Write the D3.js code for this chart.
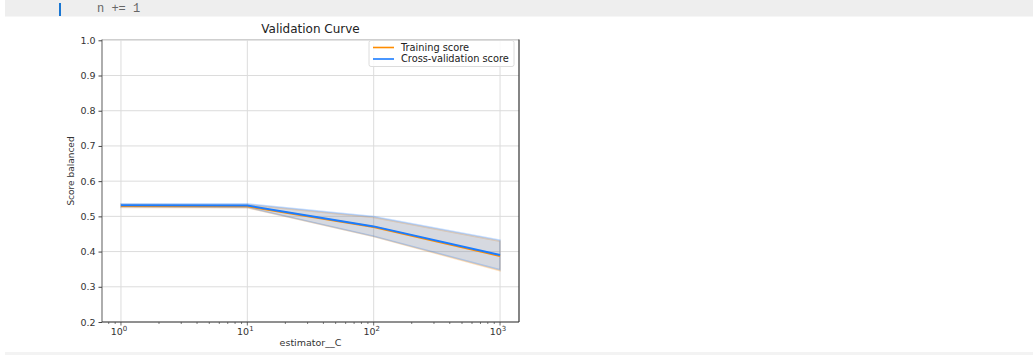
<!DOCTYPE html>
<html>
<head>
<meta charset="utf-8">
<script src="https://cdn.jsdelivr.net/npm/d3@7"></script>
<style>
  html, body { margin: 0; padding: 0; background: #fff; }
  svg { display: block; }
</style>
</head>
<body>
<svg id="chart" width="1033" height="355"></svg>
<script>
// Parameter grid (estimator__C) and the scores computed for each value
const paramRange = [1, 10, 100, 1000];
const trainMean = [0.5295, 0.5285, 0.4695, 0.3875];
const trainStd  = [0.004, 0.004, 0.027, 0.042];
const cvMean    = [0.5315, 0.5305, 0.4715, 0.3905];
const cvStd     = [0.004, 0.005, 0.028, 0.042];
const yTicks = [0.2, 0.3, 0.4, 0.5, 0.6, 0.7, 0.8, 0.9, 1.0];
const xTickExps = [0, 1, 2, 3];
const seriesNames = ["Training score", "Cross-validation score"];

const svg = d3.select("#chart");
const FONT = "DejaVu Sans, sans-serif";

// Notebook code cell strip above the figure
svg.append("rect").attr("x", 5).attr("y", 0).attr("width", 1028).attr("height", 16.5).attr("fill", "#eeeeee");
svg.append("rect").attr("x", 59).attr("y", 3).attr("width", 2).attr("height", 13).attr("fill", "#1976d2");
svg.append("text").attr("x", 97).attr("y", 12).attr("font-family", "Liberation Mono, DejaVu Sans Mono, monospace")
  .attr("font-size", 12).attr("fill", "#666").attr("xml:space", "preserve").text("n += 1");
svg.append("rect").attr("x", 5).attr("y", 352).attr("width", 1028).attr("height", 3).attr("fill", "#f3f3f3");

// Plot area
const L = 102, R = 519, T = 39.5, B = 322;
const x = d3.scaleLog().domain([Math.pow(10, -0.15), Math.pow(10, 3.15)]).range([L, R]);
const y = d3.scaleLinear().domain([0.2, 1.0]).range([B, T + 0.8]);

const g = svg.append("g");

// Grid lines
g.selectAll(".gx").data(xTickExps).join("line")
  .attr("x1", d => x(Math.pow(10, d))).attr("x2", d => x(Math.pow(10, d)))
  .attr("y1", T).attr("y2", B).attr("stroke", "#dcdcdc").attr("stroke-width", 1);
g.selectAll(".gy").data(yTicks).join("line")
  .attr("x1", L).attr("x2", R).attr("y1", d => y(d)).attr("y2", d => y(d))
  .attr("stroke", "#dcdcdc").attr("stroke-width", 1);

// Score bands (mean ± std)
function band(mean, std, color, alpha) {
  const area = d3.area()
    .x((d, i) => x(paramRange[i]))
    .y0((d, i) => y(mean[i] - std[i]))
    .y1((d, i) => y(mean[i] + std[i]));
  g.append("path").attr("d", area(mean)).attr("fill", color).attr("fill-opacity", alpha)
    .attr("stroke", color).attr("stroke-opacity", 0.25).attr("stroke-width", 1.5);
}
const orange = "#ff8c00", blue = "#1a7cff";
band(trainMean, trainStd, orange, 0.15);
band(cvMean, cvStd, blue, 0.18);

const line = d3.line().x((d, i) => x(paramRange[i])).y(d => y(d));
g.append("path").attr("d", line(trainMean)).attr("fill", "none").attr("stroke", orange).attr("stroke-width", 2);
g.append("path").attr("d", line(cvMean)).attr("fill", "none").attr("stroke", blue).attr("stroke-width", 2);

// Axes frame
g.append("line").attr("x1", L).attr("x2", R).attr("y1", T).attr("y2", T).attr("stroke", "#cfcfcf");
g.append("line").attr("x1", L).attr("x2", L).attr("y1", T).attr("y2", B).attr("stroke", "#777").attr("stroke-width", 1.2);
g.append("line").attr("x1", R).attr("x2", R).attr("y1", T).attr("y2", B).attr("stroke", "#333").attr("stroke-width", 1.2);
g.append("line").attr("x1", L).attr("x2", R).attr("y1", B).attr("y2", B).attr("stroke", "#333").attr("stroke-width", 1.2);

// Y axis
const yAxis = d3.axisLeft(y).tickValues(yTicks).tickFormat(d3.format(".1f")).tickSize(3.5).tickPadding(3);
const ya = svg.append("g").attr("transform", `translate(${L},0)`).call(yAxis);
ya.select(".domain").remove();
ya.selectAll("line").attr("stroke", "#444");
ya.selectAll("text").attr("font-family", FONT).attr("font-size", 9.5).attr("fill", "#333");

// X axis: major decades with superscript labels, plus minor ticks
const minor = [];
for (let e = -1; e <= 3; e++) for (let m = 2; m <= 9; m++) {
  const v = m * Math.pow(10, e);
  if (v >= x.domain()[0] && v <= x.domain()[1]) minor.push(v);
}
svg.selectAll(".mt").data(minor).join("line")
  .attr("x1", d => x(d)).attr("x2", d => x(d)).attr("y1", B).attr("y2", B + 2)
  .attr("stroke", "#444").attr("stroke-width", 0.7);
svg.selectAll(".Mt").data(xTickExps).join("line")
  .attr("x1", d => x(Math.pow(10, d))).attr("x2", d => x(Math.pow(10, d))).attr("y1", B).attr("y2", B + 3.5)
  .attr("stroke", "#444").attr("stroke-width", 0.8);
const xl = svg.selectAll(".xl").data(xTickExps).join("text")
  .attr("x", d => x(Math.pow(10, d)) - 2).attr("y", 335)
  .attr("text-anchor", "middle").attr("font-family", FONT).attr("font-size", 9.5).attr("fill", "#333");
xl.append("tspan").text("10");
xl.append("tspan").attr("dy", -4).attr("font-size", 7).text(d => d);

// Labels and title
svg.append("text").attr("x", (L + R) / 2).attr("y", 346).attr("text-anchor", "middle")
  .attr("font-family", FONT).attr("font-size", 9.5).attr("fill", "#333").text("estimator__C");
svg.append("text").attr("transform", `translate(74,171) rotate(-90)`).attr("text-anchor", "middle")
  .attr("font-family", FONT).attr("font-size", 9).attr("fill", "#333").text("Score balanced");
svg.append("text").attr("x", (L + R) / 2).attr("y", 33).attr("text-anchor", "middle")
  .attr("font-family", FONT).attr("font-size", 12).attr("fill", "#222").text("Validation Curve");

// Legend
const lg = svg.append("g").attr("transform", "translate(369,40.5)");
lg.append("rect").attr("width", 145).attr("height", 26).attr("rx", 2)
  .attr("fill", "#fff").attr("fill-opacity", 0.85).attr("stroke", "#dcdcdc");
[orange, blue].forEach((c, i) => {
  const yy = 7 + i * 11.5;
  lg.append("line").attr("x1", 4).attr("x2", 25).attr("y1", yy).attr("y2", yy).attr("stroke", c).attr("stroke-width", 1.6);
  lg.append("text").attr("x", 32).attr("y", yy + 3.4).attr("font-family", FONT).attr("font-size", 9.8)
    .attr("fill", "#222").text(seriesNames[i]);
});
</script>
</body>
</html>
